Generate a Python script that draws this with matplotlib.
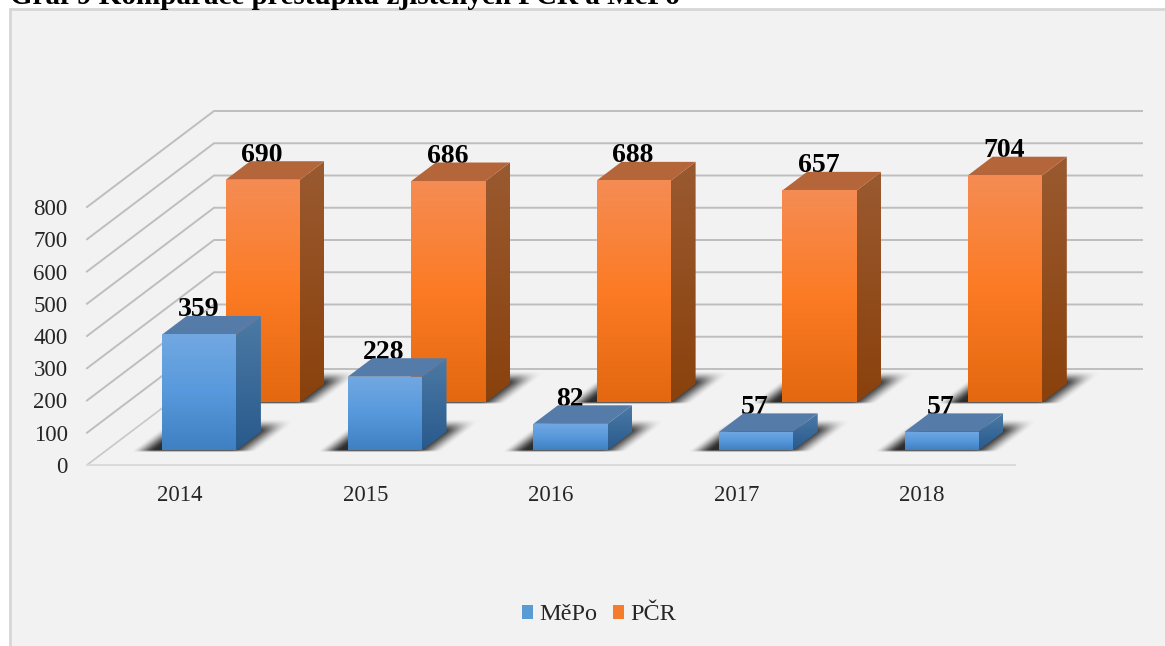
import numpy as np
import matplotlib
matplotlib.use("Agg")
import matplotlib.pyplot as plt
from matplotlib.colors import LinearSegmentedColormap
from matplotlib.patches import Polygon, Rectangle

plt.rcParams['font.family'] = ['Liberation Serif', 'DejaVu Serif']

years = ['2014', '2015', '2016', '2017', '2018']
mepo = [359, 228, 82, 57, 57]
pcr = [690, 686, 688, 657, 704]
series_names = ['MěPo', 'PČR']
y_ticks = [0, 100, 200, 300, 400, 500, 600, 700, 800]
title = 'Graf 9 Komparace přestupků zjištěných PČR a MěPo'

W, H = 1165, 646
fig = plt.figure(figsize=(W / 100, H / 100), dpi=100, facecolor='white')

# chart panel, running past the right and bottom edges of the picture
fig.add_artist(Rectangle((9.5 / W, -0.02), 1.02, (H - 9.5) / H + 0.02, transform=fig.transFigure,
                         facecolor='#F2F2F2', edgecolor='#D6D6D6', linewidth=2.0, zorder=-1))

# front plane of the plot box
L, R, B, T = 87, 1015, 465, 207
ax = fig.add_axes([L / W, 1 - B / H, (R - L) / W, (B - T) / H])
ax.patch.set_alpha(0)
for s in ax.spines.values():
    s.set_visible(False)

px_x = 5 / (R - L)
px_y = 800 / (B - T)
DX = 127 * px_x      # full depth in data units
DY = 96 * px_y
SHEAR = 127 / 96


def pr(x, v, d):
    """oblique projection: d is the depth fraction, 0 front to 1 back"""
    return (x + d * DX, v + d * DY)


# grid
for v in y_ticks:
    if v == 0:
        ax.plot(*zip(pr(0, 0, 0), pr(0, 0, 1)), color='#C8C8C8', lw=1.2, clip_on=False, zorder=1)
    else:
        ax.plot(*zip(pr(0, v, 0), pr(0, v, 1), pr(5, v, 1)), color='#BEBEBE', lw=1.4,
                clip_on=False, zorder=1, solid_joinstyle='miter')
ax.plot(*zip(pr(0, 0, 1), pr(5, 0, 1)), color='#BEBEBE', lw=1.4, clip_on=False, zorder=1)
ax.plot([0, 5], [0, 0], color='#DADADA', lw=1.4, clip_on=False, zorder=1)

BAR_W = 0.4
SLOT = 0.5
BAR_D = 18.5 / 96

palettes = [
    dict(front=['#72A8E2', '#5799DC', '#3F80C2'], side=['#4C7AA6', '#285A8C'], top='#557CA8'),
    dict(front=['#F58C54', '#FC7B24', '#E3680F'], side=['#9A5A30', '#8A410C'], top='#B4663A'),
]


def grad_poly(pts, colors, z):
    pts = np.array(pts)
    cmap = LinearSegmentedColormap.from_list('g', colors)
    xa, xb, ya, yb = pts[:, 0].min(), pts[:, 0].max(), pts[:, 1].min(), pts[:, 1].max()
    im = ax.imshow(np.linspace(0, 1, 128).reshape(-1, 1), cmap=cmap, extent=(xa, xb, ya, yb),
                   aspect='auto', zorder=z, origin='upper', vmin=0, vmax=1)
    p = Polygon(pts, closed=True, transform=ax.transData, facecolor='none', edgecolor='none')
    ax.add_patch(p)
    p.set_clip_on(False)
    im.set_clip_box(fig.bbox)
    im.set_clip_path(p)


def smooth(t):
    t = np.clip(t, 0, 1)
    return t * t * (3 - 2 * t)


def shadow(x0, d0, z):
    # soft floor shadow, sheared like the floor; offsets in pixels from the bar's front-left foot
    X0, V0 = pr(x0, 0, d0)
    xs = np.arange(-45, 175)
    ys = np.arange(-5, 36)
    gx, gy = np.meshgrid(xs, ys)
    u = gx - gy * SHEAR
    bar_px = BAR_W / px_x
    a = smooth((u + 30) / 24) * smooth((bar_px + 22 - u) / 28)
    a = a * smooth((31 - gy) / 14) * smooth((gy + 3) / 3) * 0.82
    rgba = np.zeros(a.shape + (4,))
    rgba[..., 3] = a
    im = ax.imshow(rgba, extent=(X0 - 45 * px_x, X0 + 175 * px_x, V0 - 5 * px_y, V0 + 36 * px_y),
                   origin='lower', aspect='auto', zorder=z, interpolation='bilinear')
    im.set_clip_box(fig.bbox)


def bar3d(i, v, slot, pal, z):
    x0 = i + (1 - BAR_W) / 2
    x1 = x0 + BAR_W
    d0 = (slot + 0.5) * SLOT - BAR_D / 2
    d1 = d0 + BAR_D
    lap = 1.5 * px_x
    shadow(x0, d0, z)
    grad_poly([pr(x0, 0, d0), pr(x1, 0, d0), pr(x1, v, d0), pr(x0, v, d0)], pal['front'], z + 3)
    grad_poly([pr(x1 - lap, 0, d0), pr(x1, 0, d0), pr(x1, 0, d1), pr(x1, v, d1), pr(x1, v, d0), pr(x1 - lap, v, d0)],
              pal['side'], z + 2)
    ax.add_patch(Polygon([pr(x0, v, d0), pr(x1, v, d0), pr(x1, v, d1), pr(x0, v, d1)], closed=True,
                         facecolor=pal['top'], edgecolor='none', clip_on=False, zorder=z + 2))
    lx = pr(x0, v, d0)[0] + BAR_W / 2 - 1 * px_x
    ly = pr(x0, v, d1)[1]
    ax.text(lx, ly - 0.5 * px_y, str(v), ha='center', va='baseline', fontsize=20, fontweight='bold',
            color='black', zorder=z + 1, clip_on=False)


for i, v in enumerate(pcr):
    bar3d(i, v, 1, palettes[1], 3)
for i, v in enumerate(mepo):
    bar3d(i, v, 0, palettes[0], 8)

ax.set_xlim(0, 5)
ax.set_ylim(0, 800)
ax.set_xticks(np.arange(len(years)) + 0.5)
ax.set_xticklabels(years, fontsize=16.5, color='#262626')
ax.set_yticks(y_ticks)
ax.set_yticklabels([str(v) for v in y_ticks], fontsize=16.5, color='#262626')
ax.tick_params(axis='both', length=0)
ax.tick_params(axis='x', pad=14.5)
ax.tick_params(axis='y', pad=14)

# legend
handles = [Rectangle((0, 0), 1, 1, facecolor=c) for c in ['#5B9BD5', '#F57C2A']]
fig.legend(handles, series_names, loc='center', bbox_to_anchor=(599 / W, 1 - 615 / H), ncol=2, frameon=False,
           fontsize=17.5, handlelength=0.45, handleheight=0.55, handletextpad=0.25, columnspacing=0.65,
           labelcolor='#262626', borderpad=0, borderaxespad=0)

# title, cut by the top edge of the picture
fig.text(10 / W, 1 - 4 / H, title, ha='left', va='baseline', fontsize=21, fontweight='bold', color='black')

fig.savefig('out.png', dpi=100)
